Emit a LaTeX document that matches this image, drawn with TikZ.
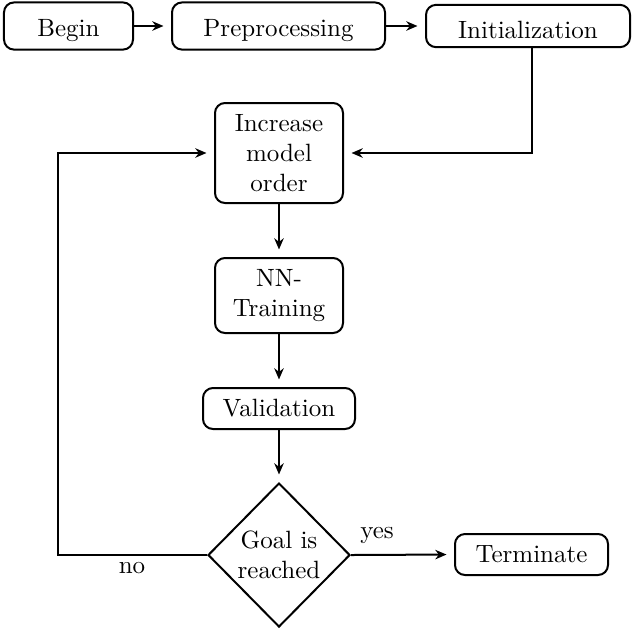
\documentclass[tikz,border=0pt]{standalone}
\usetikzlibrary{shapes.geometric,arrows.meta}
\begin{document}
\begin{tikzpicture}[x=0.4pt,y=-0.4pt,
  stepbox/.style={draw,thick,rounded corners=4pt,align=center,inner sep=2pt},
  topbox/.style={stepbox,text height=10.4pt,inner ysep=3.2pt},
  decision/.style={draw,thick,diamond,aspect=1,align=center,inner sep=0pt,
    minimum width=56.8pt,minimum height=57.6pt},
  flow/.style={thick,-{Stealth[length=4.5pt,width=3.8pt]}},
  flowgap/.style={flow,shorten >=3pt}]
\useasboundingbox (0,0) rectangle (632,628);

% top row
\node[topbox,minimum width=51.6pt] (begin) at (68.5,26) {Begin};
\node[topbox,minimum width=85.2pt] (prep) at (278.5,26) {Preprocessing};
\node[topbox,minimum width=81.6pt] (init) at (528,26) {Initialization};

% main loop
\node[stepbox,minimum width=51.2pt,minimum height=40pt] (incr) at (279,153) {Increase\\model\\order};
\node[stepbox,minimum width=51.2pt,minimum height=30pt] (nn) at (279,295.5) {NN-\\Training};
\node[stepbox,minimum width=60.8pt,minimum height=16.4pt] (valid) at (279,408.5) {Validation};
\node[decision] (goal) at (279,555) {Goal is\\reached};
\node[stepbox,minimum width=61.2pt,minimum height=16.4pt] (term) at (531.5,554.5) {Terminate};

% branch labels
\node (yes) at (377,535) {yes};
\node (no) at (132,568) {no};

% corner points of the elbow connectors
\coordinate (ic) at (532,153);
\coordinate (fb) at (58,153);

\draw[flowgap] (begin) -- (prep);
\draw[flowgap] (prep) -- (init);
\draw[flowgap] (init.south -| ic) -- (ic) -- (incr.east);
\draw[flowgap] (incr) -- (nn);
\draw[flowgap] (nn) -- (valid);
\draw[flowgap] (valid) -- (goal);
\draw[flowgap] (goal.east) -- (term.west);
\draw[flowgap] (goal.west) -- (goal.west -| fb) -- (fb) -- (incr.west);
\end{tikzpicture}
\end{document}
